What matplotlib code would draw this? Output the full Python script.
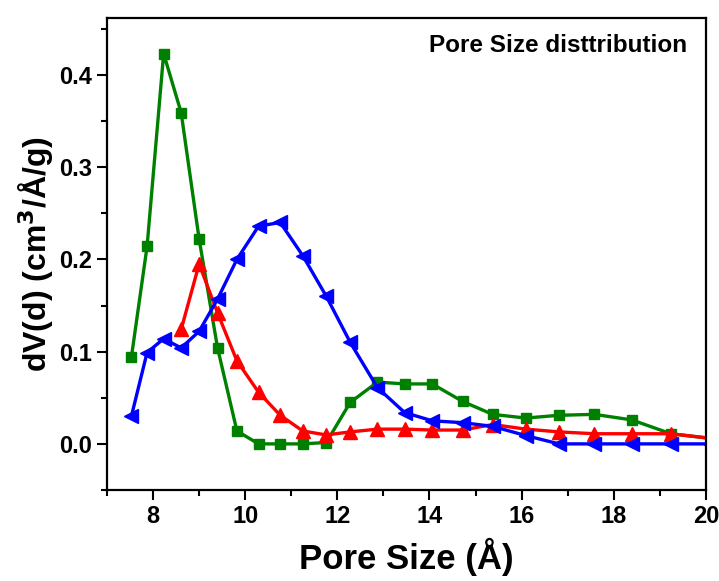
# -*- coding: utf-8 -*-
import matplotlib
matplotlib.use('Agg')
from matplotlib import pyplot as plt
from matplotlib.ticker import MultipleLocator

plt.rcParams['font.family'] = ['Liberation Sans', 'DejaVu Sans']
plt.rcParams['font.weight'] = 'bold'

# pore widths (Å) shared by the three curves
pore_w = [7.53, 7.87, 8.23, 8.61, 9.00, 9.40, 9.82, 10.29, 10.76, 11.25, 11.76,
          12.28, 12.87, 13.46, 14.06, 14.72, 15.37, 16.09, 16.81, 17.58, 18.39, 19.24, 20.1]

green = [0.094, 0.214, 0.423, 0.359, 0.222, 0.104, 0.014, 0.0, 0.0, 0.0, 0.0015,
         0.045, 0.067, 0.065, 0.065, 0.046, 0.032, 0.028, 0.031, 0.032, 0.026, 0.011, 0.006]

# red starts at 8.61 Å
red_w = pore_w[3:]
red = [0.124, 0.195, 0.142, 0.090, 0.056, 0.031, 0.014, 0.0097,
       0.013, 0.016, 0.016, 0.015, 0.015, 0.021, 0.016, 0.013, 0.011, 0.011, 0.011, 0.006]

blue = [0.030, 0.099, 0.114, 0.104, 0.122, 0.157, 0.200, 0.236, 0.240, 0.204, 0.160,
        0.110, 0.061, 0.034, 0.025, 0.023, 0.019, 0.009, 0.0, 0.0, 0.0, 0.0, 0.0]

fig = plt.figure(figsize=(7.19, 5.81), dpi=100)
ax = fig.add_axes([0.1488, 0.1566, 0.833, 0.813])

ax.plot(pore_w, green, color='#008000', lw=2.4, marker='s', ms=7.5)
ax.plot(red_w, red, color='#ff0000', lw=2.4, marker='^', ms=9.5)
ax.plot(pore_w, blue, color='#0000ff', lw=2.4, marker='<', ms=9.5)

ax.set_xlim(7, 20)
ax.set_ylim(-0.05, 0.462)
ax.xaxis.set_major_locator(MultipleLocator(2))
ax.xaxis.set_minor_locator(MultipleLocator(1))
ax.yaxis.set_minor_locator(MultipleLocator(0.05))
ax.set_yticks([0.0, 0.1, 0.2, 0.3, 0.4])
ax.set_yticklabels(['0.0', '0.1', '0.2', '0.3', '0.4'])

ax.tick_params(which='major', direction='out', length=7, width=1.5, labelsize=17, pad=4)
ax.tick_params(which='minor', direction='out', length=4, width=1.5)
for s in ax.spines.values():
    s.set_linewidth(1.6)

ax.set_xlabel('Pore Size (Å)', fontsize=25, fontweight='bold', labelpad=7)
ax.set_ylabel('dV(d) (cm$^\\mathbf{3}$/Å/g)', fontsize=23, fontweight='bold', labelpad=2)
ax.text(0.968, 0.942, 'Pore Size disttribution', transform=ax.transAxes,
        ha='right', va='center', fontsize=17.5, fontweight='bold')

plt.savefig('out.png', dpi=100)
